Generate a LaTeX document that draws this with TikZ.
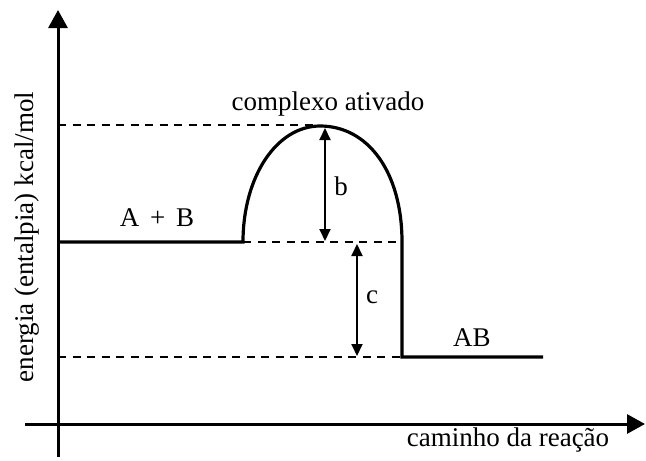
\documentclass[tikz,border=0pt]{standalone}
\usepackage{fontspec}
\setmainfont{Liberation Serif}
\usetikzlibrary{arrows.meta}
\tikzset{
    axisline/.style={line width=3pt, -{Triangle[length=18pt, width=19pt]}},
    pathline/.style={line width=3.2pt},
    levelline/.style={line width=2.6pt, dash pattern=on 8pt off 6.5pt},
    gaparrow/.style={line width=2pt, {Triangle[length=12pt, width=11pt]}-{Triangle[length=12pt, width=11pt]}},
    lbl/.style={font=\fontsize{27}{31}\selectfont, inner sep=0pt}
}
\begin{document}
\begin{tikzpicture}[x=1pt, y=-1pt]
    \useasboundingbox (0,0) rectangle (646,461);
    % axes
    \coordinate (yaxis0) at (58,457);
    \coordinate (yaxis1) at (58,10);
    \coordinate (xaxis0) at (25,424);
    \coordinate (xaxis1) at (645,424);
    \draw[axisline] (yaxis0) -- (yaxis1);
    \draw[axisline] (xaxis0) -- (xaxis1);
    % energy path
    \coordinate (react0) at (58,242);
    \coordinate (react1) at (243,242);
    \coordinate (peak) at (320,126);
    \coordinate (fall) at (402,242);
    \coordinate (prod0) at (402,357);
    \coordinate (prod1) at (543,357);
    \draw[pathline] (react0) -- (react1)
        .. controls (243,176) and (277,126) .. (peak)
        .. controls (368,126) and (402,172) .. (fall)
        -- (prod0) -- (prod1);
    % levels
    \coordinate (toplev0) at (58,125);
    \coordinate (toplev1) at (314,125);
    \coordinate (botlev0) at (58,357);
    \draw[levelline] (toplev0) -- (toplev1);
    \draw[levelline] (react1) -- (fall);
    \draw[levelline] (botlev0) -- (prod0);
    % differences
    \coordinate (btop) at (325,128);
    \coordinate (bbot) at (325,241);
    \coordinate (ctop) at (357,244);
    \coordinate (cbot) at (357,356);
    \draw[gaparrow] (btop) -- (bbot);
    \draw[gaparrow] (ctop) -- (cbot);
    % labels
    \node[lbl] (complexo) at (328,104) {complexo ativado};
    \node[lbl] (reag) at (157,218) {A\hspace{4pt} + \hspace{4pt}B};
    \node[lbl] (prod) at (472,338) {AB};
    \node[lbl] (blbl) at (341,186) {b};
    \node[lbl] (clbl) at (372,297) {c};
    \node[lbl] (xlbl) at (508,440) {caminho da reação};
    \node[lbl, rotate=90] (ylbl) at (27,237) {energia (entalpia) kcal/mol};
\end{tikzpicture}
\end{document}
